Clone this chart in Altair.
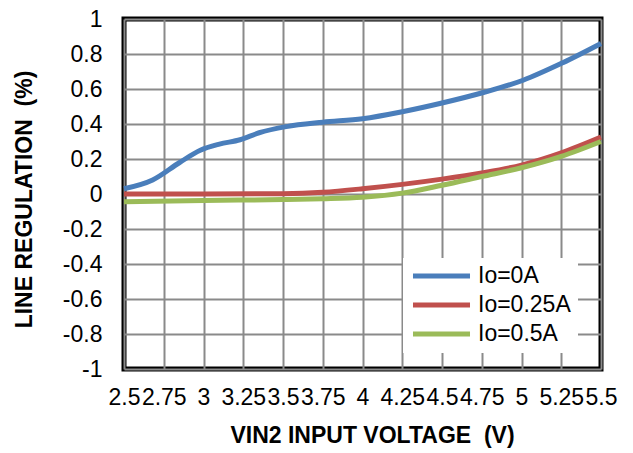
import altair as alt
import pandas as pd

series_names = ["Io=0A", "Io=0.25A", "Io=0.5A"]
colors = ["#4A7EBB", "#C0504D", "#9BBB59"]

vin_0 = [2.5, 2.68, 2.85, 2.98, 3.1, 3.23, 3.35, 3.52, 3.75, 4.0, 4.25, 4.5, 4.76, 5.01, 5.26, 5.5]
reg_0 = [0.03, 0.08, 0.18, 0.25, 0.285, 0.31, 0.35, 0.385, 0.41, 0.43, 0.47, 0.52, 0.58, 0.65, 0.75, 0.86]

vin_25 = [2.5, 3.0, 3.5, 3.75, 4.0, 4.25, 4.5, 4.75, 5.0, 5.25, 5.5]
reg_25 = [0.0, 0.0, 0.002, 0.01, 0.03, 0.055, 0.085, 0.12, 0.165, 0.235, 0.325]

vin_5 = [2.5, 3.0, 3.5, 3.75, 4.0, 4.25, 4.5, 4.75, 5.0, 5.25, 5.5]
reg_5 = [-0.045, -0.037, -0.032, -0.027, -0.018, 0.005, 0.05, 0.1, 0.15, 0.215, 0.3]

x_ticks = [2.5, 2.75, 3, 3.25, 3.5, 3.75, 4, 4.25, 4.5, 4.75, 5, 5.25, 5.5]
y_ticks = [-1, -0.8, -0.6, -0.4, -0.2, 0, 0.2, 0.4, 0.6, 0.8, 1]

rows = []
for name, xs, ys in [(series_names[0], vin_0, reg_0),
                     (series_names[1], vin_25, reg_25),
                     (series_names[2], vin_5, reg_5)]:
    for i, (a, b) in enumerate(zip(xs, ys)):
        rows.append({"series": name, "vin": a, "reg": b, "i": i})
df = pd.DataFrame(rows)

FONT = "Liberation Sans"
NB = "\u00a0"

chart = alt.Chart(df).mark_line(strokeWidth=5, interpolate="monotone").encode(
    x=alt.X("vin:Q",
            scale=alt.Scale(domain=[2.5, 5.5], nice=False, zero=False),
            axis=alt.Axis(values=x_ticks, labelExpr="'' + datum.value",
                          title="VIN2 INPUT VOLTAGE" + NB + NB + "(V)",
                          labelOverlap=False, labelFlush=False,
                          labelPadding=17, tickSize=0, domain=False,
                          labelFont=FONT, labelFontSize=23, labelColor="black",
                          titleFont=FONT, titleFontSize=23, titleFontWeight="bold",
                          titleColor="black",
                          titleX=248, titleY=66, titleBaseline="middle",
                          titleAlign="center")),
    y=alt.Y("reg:Q",
            scale=alt.Scale(domain=[-1, 1], nice=False),
            axis=alt.Axis(values=y_ticks, labelExpr="'' + datum.value",
                          title="LINE REGULATION" + NB + NB + "(%)",
                          labelOverlap=False, labelFlush=False,
                          labelPadding=22, tickSize=0, domain=False,
                          labelFont=FONT, labelFontSize=23, labelColor="black",
                          titleFont=FONT, titleFontSize=23, titleFontWeight="bold",
                          titleColor="black",
                          titleX=-100, titleY=180, titleAngle=-90,
                          titleBaseline="middle", titleAlign="center")),
    color=alt.Color("series:N",
                    scale=alt.Scale(domain=series_names, range=colors),
                    legend=alt.Legend(title=None, orient="none",
                                      legendX=279, legendY=239,
                                      symbolType="stroke", symbolSize=3250,
                                      symbolStrokeWidth=5, labelOffset=5,
                                      clipHeight=22, rowPadding=6, padding=7,
                                      fillColor="white",
                                      labelFontSize=23, labelFont=FONT,
                                      labelColor="black")),
    order="i:Q",
).properties(
    width=477, height=350,
    autosize=alt.AutoSizeParams(type="none"),
    padding={"left": 116, "top": 11, "right": 20, "bottom": 82},
).configure_view(
    stroke="black", strokeWidth=5
).configure_axis(
    grid=True, gridColor="#8a8a8a", gridWidth=2, gridOpacity=1,
)

chart.save("out.html", embed_options={"renderer": "svg", "actions": False})
